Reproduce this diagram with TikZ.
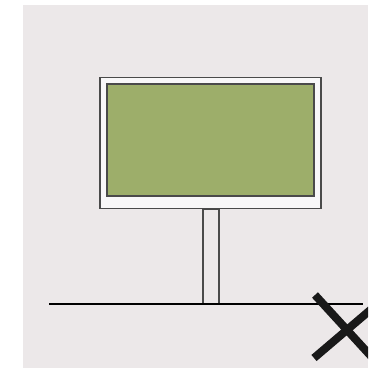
\documentclass[tikz,border=0pt]{standalone}
\definecolor{bg}{HTML}{ECE8E9}
\definecolor{frame}{HTML}{F8F7F8}
\definecolor{board}{HTML}{9DAE6A}
\definecolor{edge}{HTML}{4A4A4A}
\begin{document}
\begin{tikzpicture}[x=1pt,y=-1pt,
  outline/.style={draw=edge,line width=1.3pt}]
\useasboundingbox (0,0) rectangle (368,369);
\fill[white] (0,0) rectangle (368,369);
\fill[bg] (23,5) rectangle (368,368);
\begin{scope}
\clip (23,5) rectangle (368,368);
% post
\draw[outline,fill=bg] (203,209) rectangle (219,304);
% ground
\draw[black,line width=1.6pt] (49,304) -- (363,304);
% cross
\draw[black!90,line width=8pt] (315,295) -- (380,366);
\draw[black!90,line width=8pt] (314,358) -- (375,306);
\end{scope}
% sign
\node[outline,fill=frame,minimum width=221pt,minimum height=131pt,inner sep=0pt] (sign) at (210.5,143) {};
\node[outline,fill=board,minimum width=207pt,minimum height=112pt,inner sep=0pt] (panel) at (210.5,140) {};
\end{tikzpicture}
\end{document}
